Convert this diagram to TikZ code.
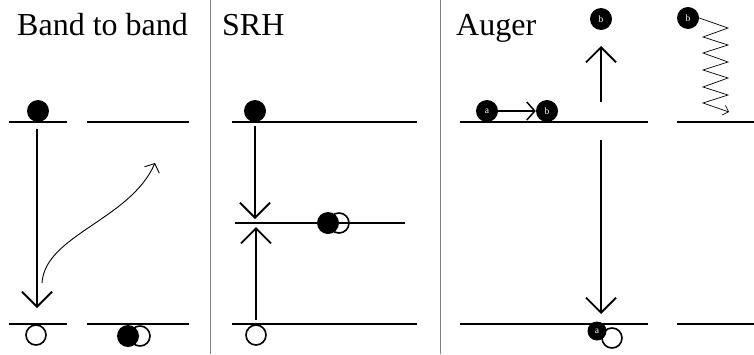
\documentclass[tikz,border=0pt]{standalone}
\usepackage{fontspec}
\setmainfont{Liberation Serif}
\usetikzlibrary{arrows.meta}
\begin{document}
\begin{tikzpicture}[x=1pt,y=-1pt,
  band/.style={line width=1.8pt},
  divider/.style={line width=1pt, draw=gray},
  title/.style={anchor=base west, inner sep=0pt, font=\fontsize{32}{32}\selectfont},
  el/.style={circle, fill=black, minimum size=22pt, inner sep=0pt, font=\fontsize{9.5}{9.5}\selectfont, text=white},
  hole/.style={circle, draw=black, fill=none, line width=1.6pt, minimum size=20pt, inner sep=0pt},
  bigarrow/.style={line width=1.8pt, -{Straight Barb[length=15pt,width=30pt]}},
  smallarrow/.style={line width=1.5pt, -{Straight Barb[length=8pt,width=18pt]}},
  thinarrow/.style={line width=0.9pt, -{Straight Barb[length=7pt,width=16pt]}},
  zigarrow/.style={line width=0.7pt, -{Straight Barb[length=5pt,width=10pt]}}
]
\useasboundingbox (0,0) rectangle (754,354);

% dividers
\draw[divider] (210,0) -- (210,354);
\draw[divider] (440,0) -- (440,354);

% ---------- Band to band ----------
\node[title] (t1) at (17,35) {Band to band};
\draw[band] (9,122) -- (67,122);
\draw[band] (87,122) -- (189,122);
\draw[band] (9,324) -- (67,324);
\draw[band] (87,324) -- (189,324);
\node[el] (b2b-e) at (38,111) {};
\node[hole] (b2b-h) at (36,335) {};
\node[el] (b2b-e2) at (128,336) {};
\node[hole] (b2b-h2) at (140,336) {};
\coordinate (b2b-s) at (37,129);
\coordinate (b2b-t) at (37,308);
\draw[bigarrow] (b2b-s) -- (b2b-t);
\coordinate (ph-s) at (42,283);
\coordinate (ph-t) at (155,163);
\draw[thinarrow] (ph-s) .. controls (45,235) and (130,220) .. (ph-t);

% ---------- SRH ----------
\node[title] (t2) at (222,35) {SRH};
\draw[band] (232,122) -- (417,122);
\draw[band] (235,223) -- (405,223);
\draw[band] (232,324) -- (417,324);
\node[el] (srh-e) at (255,111) {};
\node[hole] (srh-h2) at (339,223) {};
\node[el] (srh-e2) at (328,223) {};
\node[hole] (srh-h) at (256,335) {};
\coordinate (srh-s1) at (255,126);
\coordinate (srh-t1) at (255,219);
\coordinate (srh-s2) at (256,320);
\coordinate (srh-t2) at (256,227);
\draw[bigarrow] (srh-s1) -- (srh-t1);
\draw[bigarrow] (srh-s2) -- (srh-t2);

% ---------- Auger ----------
\node[title] (t3) at (456,35) {Auger};
\draw[band] (460,122) -- (648,122);
\draw[band] (677,122) -- (754,122);
\draw[band] (460,324) -- (648,324);
\draw[band] (677,324) -- (754,324);
\node[el] (au-a) at (487,111) {a};
\node[el] (au-b) at (547,111) {b};
\draw[smallarrow] (au-a) -- (au-b);
\node[el] (au-b2) at (601,19) {b};
\coordinate (au-s1) at (601,102);
\coordinate (au-t1) at (601,46);
\draw[bigarrow] (au-s1) -- (au-t1);
\coordinate (au-s2) at (601,140);
\coordinate (au-t2) at (601,314);
\draw[bigarrow] (au-s2) -- (au-t2);
\node[hole] (au-h) at (612,338) {};
\node[el, minimum size=19pt] (au-a2) at (597,331) {a};
\node[el] (au-b3) at (688,18) {b};
\coordinate (zz-t) at (729,112);
\draw[zigarrow] (au-b3.east) -- (728,28) -- (703,37) -- (728,45) -- (703,53) -- (728,62)
  -- (703,70) -- (728,78) -- (703,87) -- (728,95) -- (703,103) -- (zz-t);
\end{tikzpicture}
\end{document}
